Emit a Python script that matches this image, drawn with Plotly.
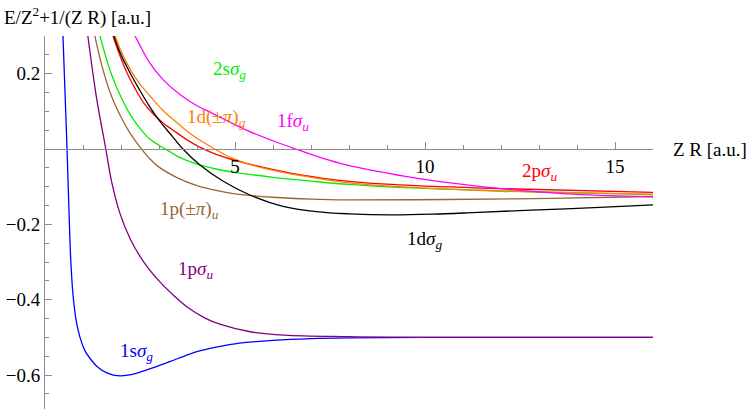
import plotly.graph_objects as go

# values (x = Z R, y = E/Z^2 + 1/(Z R))
r_1ssg = [0.47, 0.53, 0.58, 0.63, 0.68, 0.74, 0.82, 0.92, 1.05, 1.2, 1.4, 1.6, 1.8, 2.0, 2.3, 2.6, 3.0, 3.5, 4.0, 4.5, 5.0, 6.0, 7.0, 8.0, 10, 13, 16]
e_1ssg = [0.308, 0.14, 0.0, -0.16, -0.30, -0.39, -0.455, -0.50, -0.535, -0.558, -0.58, -0.593, -0.600, -0.602, -0.598, -0.589, -0.575, -0.556, -0.538, -0.526, -0.517, -0.508, -0.503, -0.501, -0.5, -0.5, -0.5]

r_1psu = [1.12, 1.35, 1.6, 1.75, 1.97, 2.25, 2.6, 3.0, 3.4, 3.75, 4.2, 4.6, 5.4, 6.3, 8.0, 10, 13, 16]
e_1psu = [0.306, 0.14, 0.0, -0.085, -0.17, -0.24, -0.30, -0.35, -0.39, -0.42, -0.448, -0.465, -0.485, -0.494, -0.498, -0.5, -0.5, -0.5]

r_1ppu = [1.30, 1.5, 1.75, 2.0, 2.25, 2.5, 2.75, 3.0, 3.5, 4.0, 4.5, 5.0, 6.0, 7.0, 8.0, 10.6, 13.3, 16]
e_1ppu = [0.306, 0.22, 0.14, 0.085, 0.04, 0.005, -0.025, -0.048, -0.077, -0.097, -0.11, -0.119, -0.128, -0.133, -0.135, -0.134, -0.131, -0.126]

r_2ssg = [1.43, 1.6, 1.75, 2.0, 2.25, 2.5, 2.75, 3.0, 3.25, 3.5, 4.0, 4.5, 5.0, 6.0, 7.0, 8.0, 9.3, 12, 16]
e_2ssg = [0.306, 0.245, 0.198, 0.138, 0.09, 0.055, 0.027, 0.01, -0.005, -0.02, -0.040, -0.053, -0.062, -0.075, -0.085, -0.094, -0.102, -0.111, -0.121]

r_2psu = [1.77, 2.0, 2.16, 2.4, 2.6, 2.85, 3.1, 3.4, 3.7, 4.07, 4.5, 5.0, 5.8, 6.7, 8.0, 9.3, 12, 16]
e_2psu = [0.306, 0.24, 0.202, 0.155, 0.122, 0.093, 0.07, 0.048, 0.027, 0.005, -0.014, -0.03, -0.05, -0.068, -0.086, -0.095, -0.105, -0.115]

r_1dpg = [1.83, 2.0, 2.25, 2.5, 2.77, 3.1, 3.47, 3.9, 4.4, 4.94, 5.8, 6.7, 8.0, 9.3, 12, 16]
e_1dpg = [0.306, 0.26, 0.21, 0.172, 0.140, 0.103, 0.07, 0.035, 0.004, -0.025, -0.052, -0.07, -0.09, -0.100, -0.112, -0.120]

r_1dsg = [1.79, 2.0, 2.25, 2.5, 2.77, 3.05, 3.34, 3.63, 4.07, 4.68, 5.39, 6.26, 7.14, 8.0, 9.1, 10.2, 11.4, 12.8, 14.6, 16]
e_1dsg = [0.306, 0.25, 0.20, 0.155, 0.11, 0.07, 0.035, 0.0, -0.042, -0.085, -0.122, -0.152, -0.166, -0.172, -0.175, -0.173, -0.168, -0.162, -0.155, -0.148]

r_1fsu = [2.34, 2.55, 2.76, 3.1, 3.55, 4.0, 4.42, 5.3, 6.0, 6.6, 7.3, 7.93, 8.8, 9.68, 10.5, 11.43, 12.5, 13.7, 16]
e_1fsu = [0.306, 0.265, 0.228, 0.185, 0.145, 0.115, 0.094, 0.05, 0.022, 0.0, -0.024, -0.042, -0.06, -0.076, -0.088, -0.099, -0.11, -0.119, -0.127]

curves = [
    (r_1ssg, e_1ssg, "#0000ff"),
    (r_1psu, e_1psu, "#800080"),
    (r_1ppu, e_1ppu, "#996633"),
    (r_2ssg, e_2ssg, "#00ee00"),
    (r_2psu, e_2psu, "#ff0000"),
    (r_1dpg, e_1dpg, "#ff8000"),
    (r_1dsg, e_1dsg, "#000000"),
    (r_1fsu, e_1fsu, "#ff00ff"),
]

# curve labels: text, x, y, colour
labels = [
    ("1s<i>σ</i><sub><i>g</i></sub>", 2.42, -0.538, "#0000ff"),
    ("1p<i>σ</i><sub><i>u</i></sub>", 3.97, -0.320, "#800080"),
    ("1p(±<i>π</i>)<sub><i>u</i></sub>", 3.81, -0.161, "#996633"),
    ("2s<i>σ</i><sub><i>g</i></sub>", 4.86, 0.210, "#00ee00"),
    ("2p<i>σ</i><sub><i>u</i></sub>", 13.0, -0.060, "#ff0000"),
    ("1d(±<i>π</i>)<sub><i>g</i></sub>", 4.52, 0.083, "#ff8000"),
    ("1d<i>σ</i><sub><i>g</i></sub>", 9.98, -0.241, "#000000"),
    ("1f<i>σ</i><sub><i>u</i></sub>", 6.52, 0.072, "#ff00ff"),
]

y_min, y_max = -0.69, 0.3
font = "Liberation Serif"

fig = go.Figure()
for r, e, c in curves:
    fig.add_trace(go.Scatter(x=r, y=e, mode="lines", line=dict(color=c, width=1.3, shape="spline", smoothing=1.0),
                             hoverinfo="skip"))

for t, x, y, c in labels:
    fig.add_annotation(x=x, y=y, text=t, showarrow=False, font=dict(color=c, size=19, family=font))

fig.add_annotation(xref="paper", yref="paper", x=1.0296, y=-y_min / (y_max - y_min), text="Z R [a.u.]",
                   showarrow=False, xanchor="left", yanchor="middle", font=dict(size=19, family=font, color="black"))
fig.add_annotation(xref="paper", yref="paper", x=-0.0707, y=1.051, text="E/Z<sup>2</sup>+1/(Z R) [a.u.]",
                   showarrow=False, xanchor="left", yanchor="middle", font=dict(size=19, family=font, color="black"))

axis_col = "#8c8c8c"
fig.update_xaxes(range=[0, 16], anchor="free", position=-y_min / (y_max - y_min), automargin=False,
                 showgrid=False, zeroline=False, showline=True, linecolor=axis_col, linewidth=1,
                 tickvals=[5, 10, 15], ticks="inside", ticklen=7, tickcolor=axis_col,
                 minor=dict(dtick=1, tick0=0, ticks="inside", ticklen=4, tickcolor=axis_col),
                 tickfont=dict(size=19, family=font, color="black"))
fig.update_yaxes(range=[y_min, y_max], automargin=False, showgrid=False, zeroline=False, showline=True,
                 linecolor=axis_col, linewidth=1, tickvals=[-0.6, -0.4, -0.2, 0.2],
                 ticktext=["−0.6", "−0.4", "−0.2", "0.2"],
                 ticks="inside", ticklen=7, tickcolor=axis_col,
                 minor=dict(dtick=0.05, tick0=0, ticks="inside", ticklen=4, tickcolor=axis_col),
                 tickfont=dict(size=19, family=font, color="black"))

fig.update_layout(width=747, height=413, margin=dict(l=45, r=94, t=36, b=4), showlegend=False,
                  plot_bgcolor="white", paper_bgcolor="white", font=dict(family=font, size=19))

# the page's default 8px body margin would shift the plot
fig.write_html("out.html", config={"displayModeBar": False},
               post_script="document.body.style.margin='0';")
